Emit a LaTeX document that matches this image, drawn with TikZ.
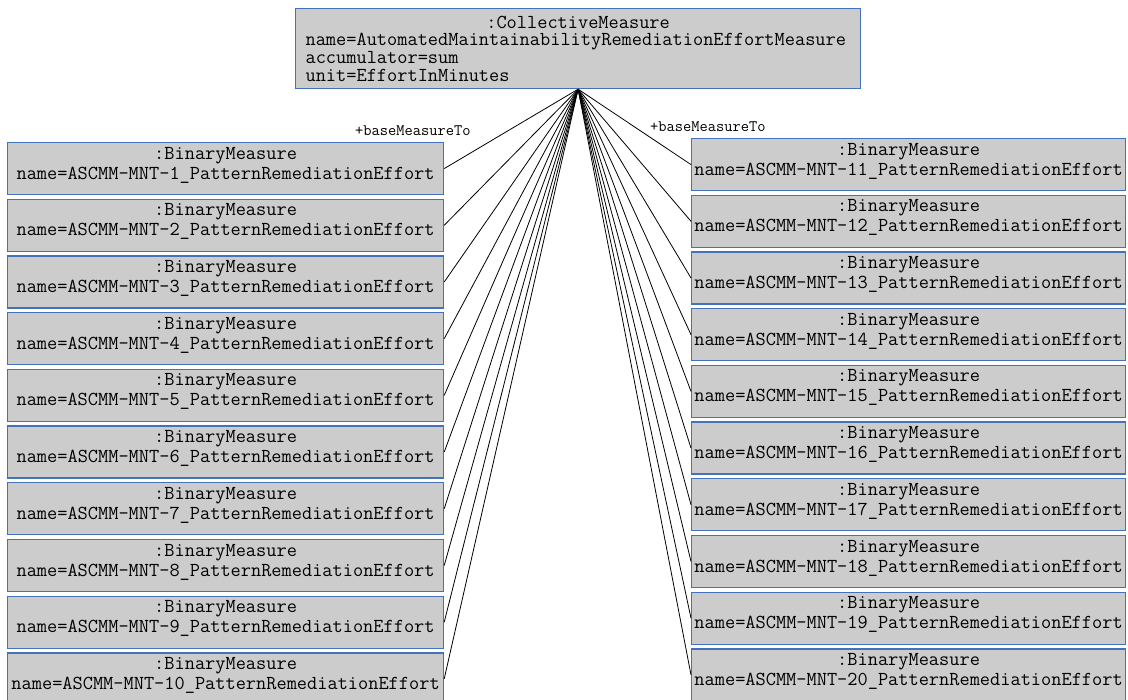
\documentclass[tikz,border=0pt]{standalone}
\usepackage{fontspec}
\definecolor{boxfill}{RGB}{204,204,204}
\definecolor{boxline}{RGB}{68,114,186}

\begin{document}
\begin{tikzpicture}[x=1pt, y=-1pt,
  measure/.style = {draw=boxline, line width=1.2pt, fill=boxfill, minimum width=436pt, minimum height=52pt, inner sep=0pt, text depth=11pt, align=center, font=\ttfamily\fontsize{19.8}{20}\selectfont},
  collectivebox/.style = {draw=boxline, line width=1.2pt, fill=boxfill, text width=545pt, inner xsep=10pt, minimum height=80pt, align=left, font=\ttfamily\fontsize{19.8}{17.6}\selectfont},
  rolelabel/.style = {inner sep=0pt, font=\ttfamily\fontsize{16}{16}\selectfont},
  link/.style = {line width=0.8pt}]
\useasboundingbox (0,0) rectangle (1128,700);

\node[collectivebox, anchor=north west] (collective) at (295,8) {\hfill:CollectiveMeasure\hfill\null\\
name=AutomatedMaintainabilityRemediationEffortMeasure\\
accumulator=sum\\
unit=EffortInMinutes};

% left column
\foreach \i in {1,...,10} {
  \node[measure, anchor=north west] (b\i) at (7,{142+56.7*(\i-1)}) {:BinaryMeasure\\name=ASCMM-MNT-\i\_PatternRemediationEffort};
  \draw[link] (collective.south) -- (b\i.east);
}
% right column
\foreach \i in {11,...,20} {
  \node[measure, anchor=north west, minimum width=434pt] (b\i) at (691,{138+56.7*(\i-11)}) {:BinaryMeasure\\name=ASCMM-MNT-\i\_PatternRemediationEffort};
  \draw[link] (collective.south) -- (b\i.west);
}

\node[rolelabel, anchor=west] (roleleft) at (355,131) {+baseMeasureTo};
\node[rolelabel, anchor=west] (roleright) at (650,127) {+baseMeasureTo};
\end{tikzpicture}
\end{document}
